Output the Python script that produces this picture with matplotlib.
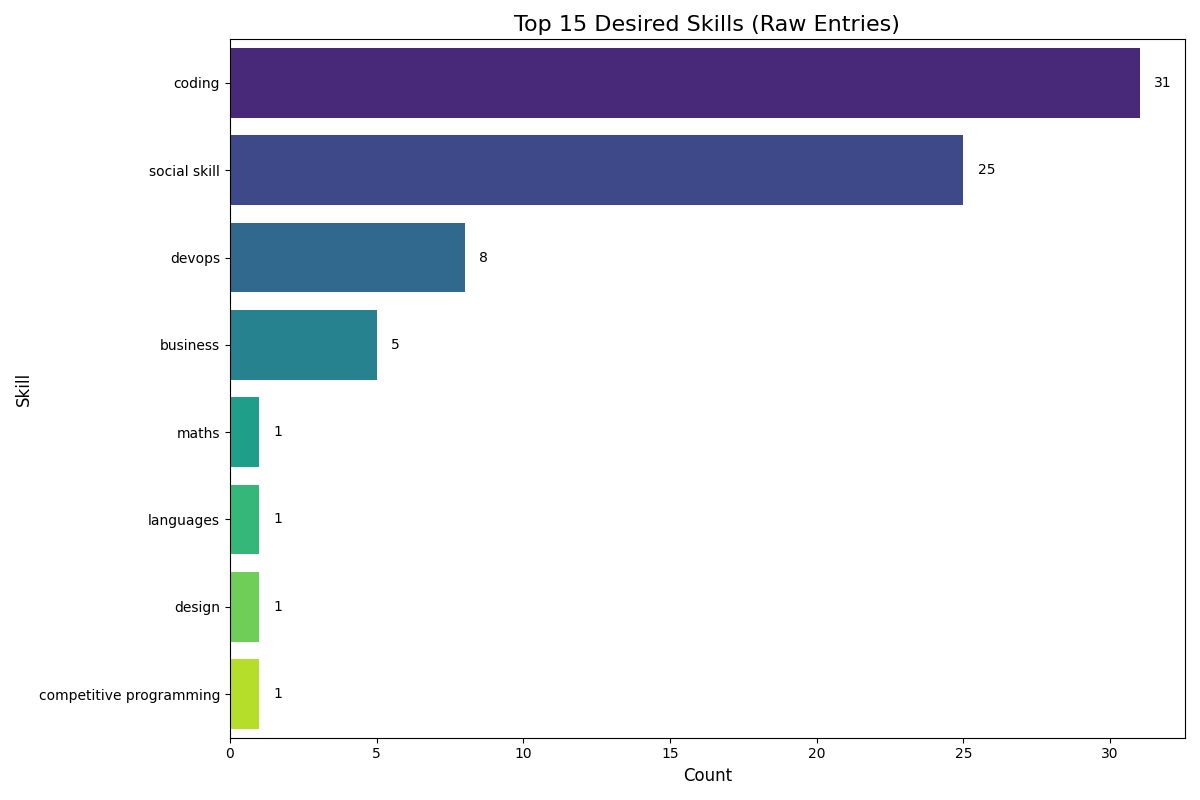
import matplotlib
matplotlib.use("Agg")
import matplotlib.pyplot as plt
import seaborn as sns

skills = ["coding", "social skill", "devops", "business", "maths", "languages", "design", "competitive programming"]
counts = [31, 25, 8, 5, 1, 1, 1, 1]

fig, ax = plt.subplots(figsize=(12, 8), dpi=100)
colors = sns.color_palette("viridis", len(skills))
ax.barh(range(len(skills)), counts, color=colors, height=0.8)
ax.set_yticks(range(len(skills)))
ax.set_yticklabels(skills)
ax.set_ylim(len(skills) - 0.5, -0.5)
ax.set_xlim(0, max(counts) * 1.05)
for i, v in enumerate(counts):
    ax.text(v + 0.5, i, str(v), va="center", fontsize=10)
ax.set_title("Top 15 Desired Skills (Raw Entries)", fontsize=16)
ax.set_xlabel("Count", fontsize=12)
ax.set_ylabel("Skill", fontsize=12)
fig.tight_layout()
fig.savefig("out.png")
